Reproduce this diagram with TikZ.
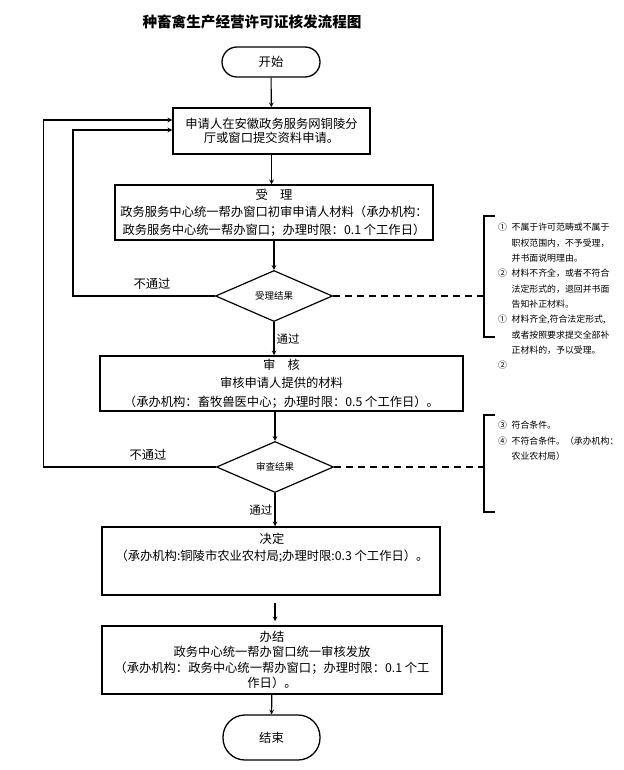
\documentclass[tikz,border=0pt]{standalone}
\usepackage{fontspec}
\setmainfont{Noto Sans CJK SC}
\usetikzlibrary{shapes.geometric}

\begin{document}
\begin{tikzpicture}[x=1pt,y=-1pt,>=stealth,
    box/.style={draw,line width=1.5pt,align=center,inner sep=2pt,font=\fontsize{12.3}{17.5}\selectfont},
    term/.style={draw,line width=1.3pt,minimum width=98pt,font=\fontsize{12.3}{15}\selectfont},
    test/.style={draw,diamond,line width=1.2pt,aspect=2.3,inner sep=0pt,minimum width=117pt,minimum height=51pt,font=\fontsize{9.5}{11}\selectfont},
    flow/.style={line width=1.1pt,->},
    lbl/.style={font=\fontsize{12.3}{14}\selectfont,inner sep=2pt},
    note/.style={font=\fontsize{8.9}{15.3}\selectfont,align=left,inner sep=0pt,anchor=north west},
    brace/.style={line width=1.4pt},
    dashline/.style={line width=1.1pt,dash pattern=on 7pt off 5pt}]
    \useasboundingbox (0,0) rectangle (623,770);

    \node[font=\fontsize{14.6}{16}\selectfont\bfseries] (title) at (252,22) {种畜禽生产经营许可证核发流程图};
    \node[term,minimum height=30pt,rounded corners=15pt] (start) at (271,62) {开始};
    \node[box,minimum width=197pt,minimum height=46pt,font=\fontsize{12.3}{14.5}\selectfont] (apply) at (271.5,131) {申请人在安徽政务服务网铜陵分\\厅或窗口提交资料申请。};
    \node[box,minimum width=318pt,minimum height=55pt] (accept) at (274,212.5) {受\quad 理\\政务服务中心统一帮办窗口初审申请人材料（承办机构：\\政务服务中心统一帮办窗口；办理时限：0.1 个工作日）};
    \node[test] (check1) at (274,296) {受理结果};
    \node[box,minimum width=363pt,minimum height=55pt,font=\fontsize{12.3}{18.5}\selectfont] (review) at (281.5,383.5) {审\quad 核\\审核申请人提供的材料\\（承办机构：畜牧兽医中心；办理时限：0.5 个工作日）。};
    \node[test] (check2) at (275,467) {审查结果};
    \node[box,minimum width=338pt,minimum height=68pt] (decide) at (271,561) {};
    \node[align=center,anchor=north,inner sep=0pt,font=\fontsize{12.3}{17}\selectfont] (decidetext) at (272,533) {决定\\（承办机构:铜陵市农业农村局;办理时限:0.3 个工作日）。};
    \node[box,minimum width=340pt,minimum height=68pt,font=\fontsize{12.3}{15.5}\selectfont] (finish) at (272,660) {办结\\政务中心统一帮办窗口统一审核发放\\（承办机构：政务中心统一帮办窗口；办理时限：0.1 个工\\作日）。};
    \node[term,minimum width=97pt,minimum height=45pt,rounded corners=22pt] (stop) at (271.5,737.5) {结束};

    \draw[flow] (start) -- (apply);
    \draw[flow] (apply.south) -- (apply.south |- accept.north);
    \draw[flow] (accept) -- (check1);
    \draw[flow] (check1) -- node[right,lbl,font=\fontsize{11.5}{13}\selectfont] (pass1) {通过} (check1 |- review.north);
    \draw[flow] (review.south -| check2.north) -- (check2);
    \draw[flow] (check2) -- node[left,lbl,font=\fontsize{11.5}{13}\selectfont] (pass2) {通过} (check2 |- decide.north);
    \draw[flow] ([shift={(4pt,-7pt)}]decide.south) -- ([shift={(3pt,4pt)}]finish.north);
    \draw[flow] (finish) -- (stop);

    % back to the application
    \coordinate (innerx) at (73,0);
    \coordinate (outerx) at (43.5,0);
    \draw[flow] (check1.west) -- (check1.west -| innerx) |- ([yshift=1pt]apply.west);
    \draw[flow] (check2.west) -- (check2.west -| outerx) |- ([yshift=11pt]apply.west);
    \node[lbl] (fail1) at (152,284) {不通过};
    \node[lbl] (fail2) at (148,455) {不通过};

    % notes
    \coordinate (bracex) at (484,0);
    \draw[dashline] (check1.east) -- (check1.east -| bracex);
    \draw[dashline] (check2.east) -- (check2.east -| bracex);
    \draw[brace] (495,216) -- (484,216) -- (484,337) -- (495,337);
    \draw[brace] (495,415) -- (484,415) -- (484,512) -- (495,512);
    \node[note] (notes1) at (498,220) {\begin{tabular}{@{}l@{\hspace{4.5pt}}l@{}}①&不属于许可范畴或不属于\\&职权范围内，不予受理，\\&并书面说明理由。\\②&材料不齐全，或者不符合\\&法定形式的，退回并书面\\&告知补正材料。\\①&材料齐全,符合法定形式,\\&或者按照要求提交全部补\\&正材料的，予以受理。\\②&\end{tabular}};
    \node[note] (notes2) at (498,418) {\begin{tabular}{@{}l@{\hspace{4.5pt}}l@{}}③&符合条件。\\④&不符合条件。（承办机构：\\&农业农村局）\end{tabular}};
\end{tikzpicture}
\end{document}
